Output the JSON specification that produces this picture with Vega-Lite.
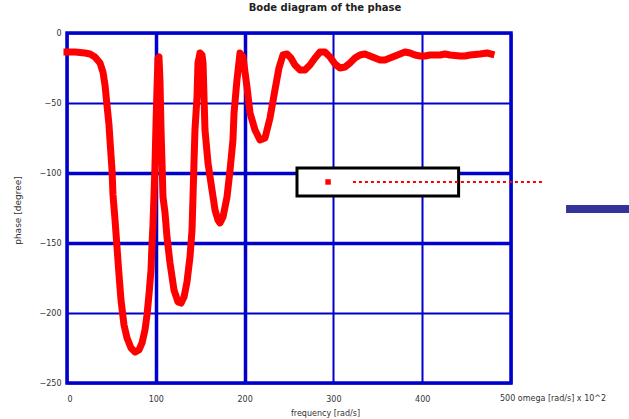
{
  "$schema": "https://vega.github.io/schema/vega-lite/v6.json",
  "width": 444,
  "height": 350,
  "autosize": {"type": "none"},
  "padding": {"left": 67, "top": 33, "right": 118, "bottom": 36},
  "background": "white",
  "title": {"text": "Bode diagram of the phase", "fontSize": 10, "fontWeight": "bold", "color": "#222222", "dx": 36, "offset": 16, "font": "DejaVu Sans"},
  "config": {"view": {"stroke": "#0000CC", "strokeWidth": 3.5}, "font": "DejaVu Sans"},
  "datasets": {
    "phase": [
      {"freq": 0, "phase": -13.6}, {"freq": 9.0, "phase": -13.6}, {"freq": 20.3, "phase": -14.3}, {"freq": 25.9, "phase": -15.0},
      {"freq": 31.5, "phase": -17.1}, {"freq": 37.2, "phase": -21.4}, {"freq": 40.5, "phase": -27.9}, {"freq": 42.8, "phase": -37.1},
      {"freq": 45.0, "phase": -51.4}, {"freq": 47.3, "phase": -65.7}, {"freq": 48.4, "phase": -76.4}, {"freq": 50.7, "phase": -97.9},
      {"freq": 51.8, "phase": -115.7}, {"freq": 54.1, "phase": -133.6}, {"freq": 56.3, "phase": -152.9}, {"freq": 58.6, "phase": -172.9},
      {"freq": 60.8, "phase": -190.7}, {"freq": 64.2, "phase": -208.6}, {"freq": 67.6, "phase": -217.9}, {"freq": 72.1, "phase": -225.0},
      {"freq": 76.6, "phase": -227.9}, {"freq": 81.1, "phase": -226.4}, {"freq": 84.5, "phase": -221.4}, {"freq": 87.8, "phase": -212.1},
      {"freq": 90.1, "phase": -201.4}, {"freq": 92.3, "phase": -187.1}, {"freq": 94.6, "phase": -169.3}, {"freq": 95.7, "phase": -151.4},
      {"freq": 96.8, "phase": -137.1}, {"freq": 98.0, "phase": -115.7}, {"freq": 99.1, "phase": -94.3}, {"freq": 100.2, "phase": -65.7},
      {"freq": 101.3, "phase": -40.7}, {"freq": 102.5, "phase": -17.9}, {"freq": 103.6, "phase": -17.1}, {"freq": 104.7, "phase": -33.6},
      {"freq": 105.9, "phase": -69.3}, {"freq": 107.0, "phase": -92.9}, {"freq": 108.1, "phase": -117.1}, {"freq": 110.4, "phase": -128.6},
      {"freq": 112.6, "phase": -145.7}, {"freq": 116.0, "phase": -164.3}, {"freq": 120.5, "phase": -183.6}, {"freq": 125.0, "phase": -192.1},
      {"freq": 128.4, "phase": -192.9}, {"freq": 131.8, "phase": -188.6}, {"freq": 135.1, "phase": -177.9}, {"freq": 138.5, "phase": -160.0},
      {"freq": 140.8, "phase": -140.7}, {"freq": 141.9, "phase": -117.1}, {"freq": 143.0, "phase": -92.9}, {"freq": 144.1, "phase": -69.3},
      {"freq": 146.4, "phase": -45.7}, {"freq": 147.5, "phase": -21.4}, {"freq": 149.8, "phase": -14.3}, {"freq": 152.0, "phase": -15.7},
      {"freq": 153.2, "phase": -21.4}, {"freq": 154.3, "phase": -45.7}, {"freq": 155.4, "phase": -69.3}, {"freq": 158.8, "phase": -92.9},
      {"freq": 163.3, "phase": -112.1}, {"freq": 166.7, "phase": -126.4}, {"freq": 170.0, "phase": -133.6}, {"freq": 172.3, "phase": -135.7},
      {"freq": 175.7, "phase": -131.4}, {"freq": 180.2, "phase": -117.1}, {"freq": 183.6, "phase": -97.9}, {"freq": 186.9, "phase": -76.4},
      {"freq": 188.1, "phase": -57.1}, {"freq": 191.4, "phase": -33.6}, {"freq": 194.8, "phase": -14.3}, {"freq": 198.2, "phase": -17.1},
      {"freq": 202.7, "phase": -38.6}, {"freq": 206.1, "phase": -57.1}, {"freq": 211.7, "phase": -69.3}, {"freq": 217.3, "phase": -76.4},
      {"freq": 223.0, "phase": -75.0}, {"freq": 228.6, "phase": -60.7}, {"freq": 234.2, "phase": -40.7}, {"freq": 238.7, "phase": -25.0},
      {"freq": 243.2, "phase": -15.7}, {"freq": 247.7, "phase": -15.0}, {"freq": 252.2, "phase": -17.9}, {"freq": 256.7, "phase": -22.9},
      {"freq": 262.4, "phase": -26.4}, {"freq": 268.0, "phase": -26.4}, {"freq": 273.6, "phase": -22.9}, {"freq": 279.3, "phase": -17.9},
      {"freq": 284.9, "phase": -13.6}, {"freq": 290.5, "phase": -13.6}, {"freq": 296.2, "phase": -17.1}, {"freq": 301.8, "phase": -22.1},
      {"freq": 307.4, "phase": -25.0}, {"freq": 313.1, "phase": -24.3}, {"freq": 318.7, "phase": -21.4}, {"freq": 324.3, "phase": -17.9},
      {"freq": 329.9, "phase": -15.7}, {"freq": 335.6, "phase": -15.0}, {"freq": 341.2, "phase": -16.4}, {"freq": 346.8, "phase": -17.9},
      {"freq": 352.5, "phase": -19.3}, {"freq": 358.1, "phase": -19.3}, {"freq": 363.7, "phase": -17.9}, {"freq": 369.4, "phase": -16.4},
      {"freq": 375.0, "phase": -15.0}, {"freq": 380.6, "phase": -13.6}, {"freq": 386.3, "phase": -14.3}, {"freq": 391.9, "phase": -15.7},
      {"freq": 397.5, "phase": -16.4}, {"freq": 403.1, "phase": -16.4}, {"freq": 408.8, "phase": -15.7}, {"freq": 420.0, "phase": -15.7},
      {"freq": 425.7, "phase": -15.0}, {"freq": 431.3, "phase": -15.7}, {"freq": 442.6, "phase": -16.4}, {"freq": 448.2, "phase": -16.4},
      {"freq": 453.8, "phase": -15.7}, {"freq": 465.1, "phase": -15.0}, {"freq": 473.0, "phase": -14.3}, {"freq": 477.5, "phase": -15.0}
    ]
  },
  "layer": [
    {
      "data": {"name": "phase"},
      "mark": {"type": "line", "color": "#FF0000", "strokeWidth": 7, "strokeJoin": "round", "strokeCap": "square"},
      "encoding": {
        "x": {
          "field": "freq", "type": "quantitative",
          "scale": {"domain": [0, 500], "nice": false, "zero": false},
          "axis": {
            "values": [0, 100, 200, 300, 400, 500],
            "labelExpr": "datum.value == 500 ? '' : datum.label",
            "grid": true, "gridColor": "#0000CC",
            "gridWidth": {"condition": {"test": "datum.value == 100 || datum.value == 200", "value": 3.5}, "value": 2},
            "domain": false, "ticks": false,
            "labelFontSize": 8, "labelColor": "#333333", "labelPadding": 12,
            "title": "frequency [rad/s]", "titleFontSize": 8, "titleFontWeight": "normal", "titleColor": "#333333",
            "titleX": 258, "titleY": 30, "titleBaseline": "middle"
          }
        },
        "y": {
          "field": "phase", "type": "quantitative",
          "scale": {"domain": [-250, 0], "nice": false, "zero": false},
          "axis": {
            "values": [0, -50, -100, -150, -200, -250],
            "grid": true, "gridColor": "#0000CC",
            "gridWidth": {"condition": {"test": "datum.value == -100 || datum.value == -150", "value": 3.5}, "value": 2},
            "domain": false, "ticks": false,
            "labelFontSize": 8, "labelColor": "#333333", "labelPadding": 6,
            "title": "phase [degree]", "titleFontSize": 9, "titleFontWeight": "normal", "titleColor": "#333333",
            "titleX": -50, "titleY": 177, "titleAngle": -90, "titleBaseline": "middle"
          }
        }
      }
    },
    {
      "data": {"values": [{}]},
      "mark": {"type": "rect", "fill": "white", "stroke": "black", "strokeWidth": 3},
      "encoding": {
        "x": {"datum": 259, "type": "quantitative"}, "x2": {"datum": 441},
        "y": {"datum": -96.4, "type": "quantitative"}, "y2": {"datum": -116.4}
      }
    },
    {
      "data": {"values": [{}]},
      "mark": {"type": "point", "shape": "square", "filled": true, "color": "#FF0000", "size": 30, "opacity": 1},
      "encoding": {"x": {"datum": 294, "type": "quantitative"}, "y": {"datum": -106.4, "type": "quantitative"}}
    },
    {
      "data": {"values": [{}]},
      "mark": {"type": "rule", "color": "#FF0000", "strokeWidth": 2, "strokeDash": [3, 3]},
      "encoding": {"x": {"datum": 322, "type": "quantitative"}, "x2": {"datum": 536}, "y": {"datum": -106.4, "type": "quantitative"}}
    },
    {
      "data": {"values": [{}]},
      "mark": {"type": "rule", "color": "#333399", "strokeWidth": 8},
      "encoding": {"x": {"datum": 562, "type": "quantitative"}, "x2": {"datum": 640}, "y": {"datum": -125.7, "type": "quantitative"}}
    },
    {
      "data": {"values": [{}]},
      "mark": {"type": "text", "align": "left", "baseline": "middle", "fontSize": 8, "color": "#333333"},
      "encoding": {"x": {"datum": 487.6, "type": "quantitative"}, "y": {"datum": -261.4, "type": "quantitative"}, "text": {"value": "500 omega [rad/s] x 10^2"}}
    }
  ]
}
